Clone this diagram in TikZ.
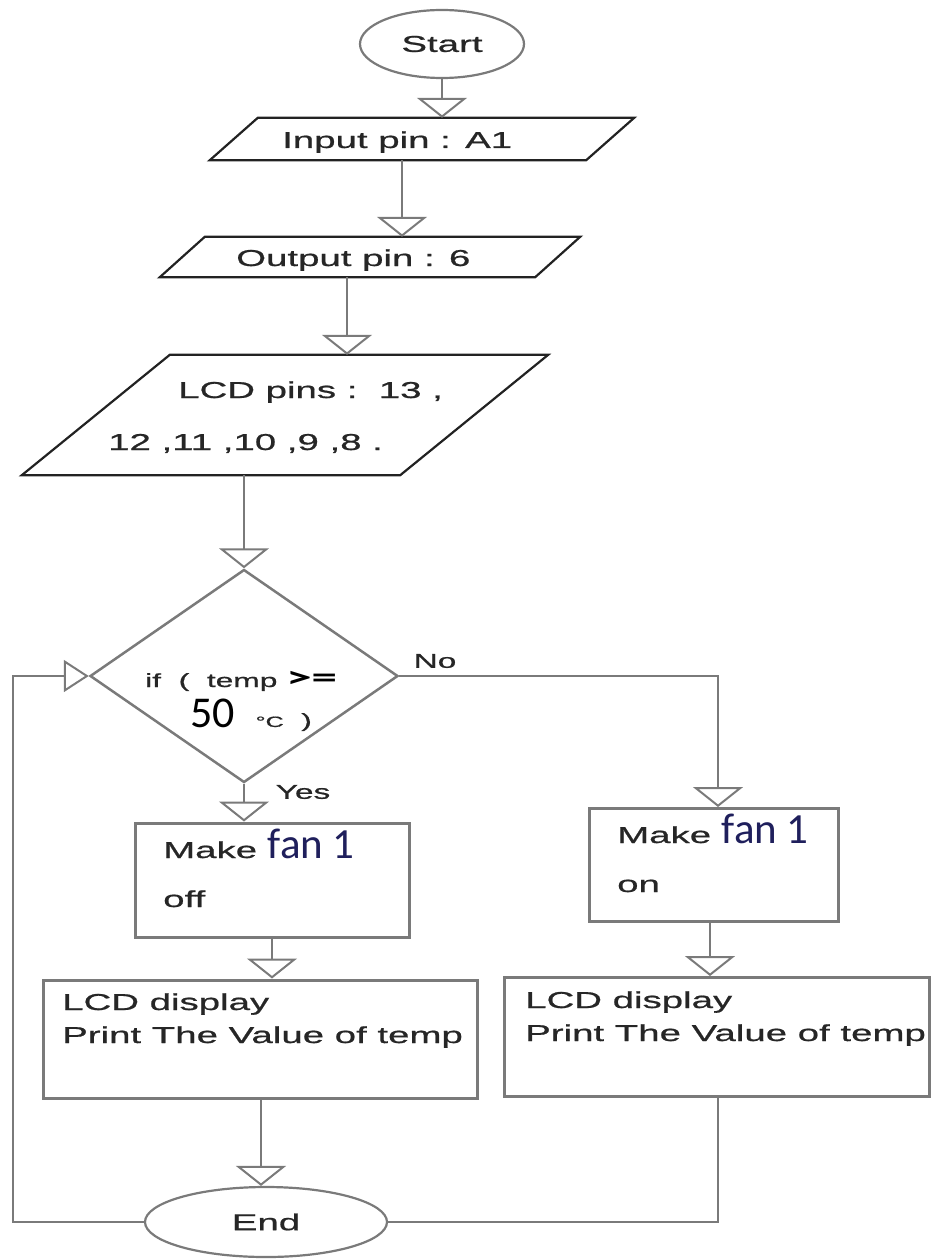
\documentclass[tikz,border=0pt]{standalone}
\usepackage{fontspec}
\setmainfont{Liberation Sans}[FakeStretch=1.67, FakeBold=0.8]
\newfontfamily\calfont{Carlito}
\usetikzlibrary{arrows.meta,shapes.geometric}
\definecolor{ln}{HTML}{7A7A7A}
\definecolor{pl}{HTML}{222222}
\definecolor{tx}{HTML}{262626}
\definecolor{navy}{HTML}{1F1F5C}
\newcommand{\fs}[1]{\fontsize{#1}{#1}\selectfont}
\begin{document}
\begin{tikzpicture}[x=1pt,y=-1pt,
  every node/.style={text=tx, font=\fs{23}},
  conn/.style={draw=ln, line width=2.6pt},
  tri/.style={-{Triangle[open,length=20pt,width=50pt,line width=2pt]}},
  term/.style={ellipse, draw=ln, line width=2.2pt, inner sep=0pt},
  pbox/.style={rectangle, inner sep=0pt},
  par/.style={draw=pl, line width=2.2pt},
  box/.style={rectangle, draw=ln, line width=3pt, inner sep=0pt},
  txt/.style={anchor=base west, inner sep=0pt}]
\useasboundingbox (0,0) rectangle (937,1260);
% start
\node[term, minimum width=164pt, minimum height=68pt] (start) at (442,44) {Start};
% input
\node[pbox, minimum width=376pt, minimum height=42pt] (in) at (422,139) {};
\draw[par] ([xshift=24pt]in.north west) -- ([xshift=24pt]in.north east) -- ([xshift=-24pt]in.south east) -- ([xshift=-24pt]in.south west) -- cycle;
\node[txt] (tin) at (282,148) {Input pin : A1};
% output
\node[pbox, minimum width=375pt, minimum height=40pt] (out) at (370,257) {};
\draw[par] ([xshift=22.5pt]out.north west) -- ([xshift=22.5pt]out.north east) -- ([xshift=-22.5pt]out.south east) -- ([xshift=-22.5pt]out.south west) -- cycle;
\node[txt] (tout) at (236,266) {Output pin : 6};
% lcd pins
\node[pbox, minimum width=378pt, minimum height=120pt] (lcd) at (285,415) {};
\draw[par] ([xshift=74pt]lcd.north west) -- ([xshift=74pt]lcd.north east) -- ([xshift=-74pt]lcd.south east) -- ([xshift=-74pt]lcd.south west) -- cycle;
\node[txt] (tl1) at (178,398) {LCD pins :\ \ 13 ,};
\node[txt] (tl2) at (108,450) {12 ,11 ,10 ,9 ,8 .};
% decision
\node[diamond, draw=ln, line width=2.5pt, minimum width=308pt, minimum height=213pt, inner sep=0pt] (dia) at (244,676) {};
\node[txt, font=\fs{19}] (tdia1) at (145,687) {if\ \ (\ \ temp {\calfont\bfseries\color{black}\scalebox{1.7}[1]{\fs{30}>=}}};
\node[txt, font=\fs{19}] (tdia2) at (190,727) {{\calfont\fs{44}\color{black}50}\ \ \,{\fs{15}°C}\ \ )};
\node[font=\fs{20}] (no) at (435,661) {No};
\node[font=\fs{20}] (yes) at (303,792) {Yes};
% boxes
\node[box, minimum width=274pt, minimum height=114pt] (boxL) at (272,880) {};
\node[txt] (tbl1) at (163,858) {Make {\calfont\color{navy}\fs{43}fan 1}};
\node[txt] (tbl2) at (163,907) {off};
\node[box, minimum width=249pt, minimum height=113pt] (boxR) at (714,865) {};
\node[txt] (tbr1) at (617,843) {Make {\calfont\color{navy}\fs{43}fan 1}};
\node[txt] (tbr2) at (617,892) {on};
\node[box, minimum width=434pt, minimum height=118pt] (lcdL) at (260,1039) {};
\node[txt] (tll1) at (62,1010) {LCD display};
\node[txt] (tll2) at (62,1043) {Print The Value of temp};
\node[box, minimum width=425pt, minimum height=119pt] (lcdR) at (717,1037) {};
\node[txt] (tlr1) at (525,1008) {LCD display};
\node[txt] (tlr2) at (525,1041) {Print The Value of temp};
% end
\node[term, minimum width=242pt, minimum height=70pt] (end) at (266,1222) {End};
% connectors
\draw[conn,tri] (start) -- (start |- in.north);
\draw[conn,tri] ([xshift=-20pt]in.south) -- ([xshift=-20pt]in.south |- out.north);
\draw[conn,tri] ([xshift=-23pt]out.south) -- ([xshift=-23pt]out.south |- lcd.north);
\draw[conn,tri] (dia.north |- lcd.south) -- (dia.north);
\coordinate (tn) at (718,676);
\draw[conn,tri] (dia.east) -- (tn) -- (tn |- boxR.north);
\draw[conn,tri] (dia.south) -- (dia.south |- boxL.north);
\draw[conn,tri] (boxL.south) -- (boxL.south |- lcdL.north);
\draw[conn,tri] ([xshift=-4pt]boxR.south) -- ([xshift=-4pt]boxR.south |- lcdR.north);
\draw[conn,tri] ([xshift=1pt]lcdL.south) -- ([xshift=1pt]lcdL.south |- end.north);
\coordinate (ll) at (13,1222);
\coordinate (lu) at (13,676);
\draw[conn,-{Triangle[open,length=25pt,width=32pt,line width=2pt]}] (end.west) -- (ll) -- (lu) -- (dia.west);
\coordinate (rr) at (718,1222);
\draw[conn] (end.east) -- (rr) -- (rr |- lcdR.south);
\end{tikzpicture}
\end{document}
